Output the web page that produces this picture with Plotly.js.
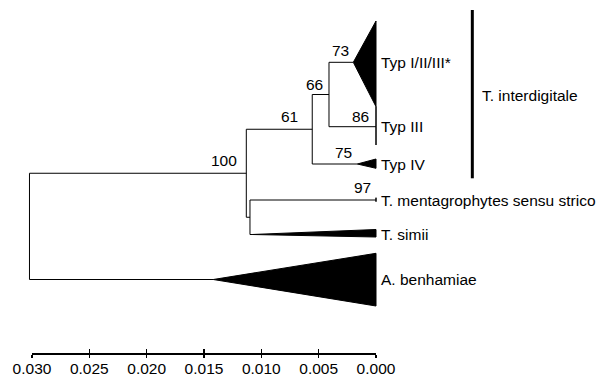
<!DOCTYPE html>
<html><head><meta charset="utf-8">
<script src="https://cdn.plot.ly/plotly-3.0.1.min.js"></script>
<style>html,body{margin:0;padding:0;background:#fff}</style>
</head><body><div id="chart" style="width:605px;height:379px"></div>
<script>
// ---- data ----
// collapsed clades / leaves
const cladeNames = ["Typ I/II/III*", "Typ III", "Typ IV", "T. mentagrophytes sensu strico", "T. simii", "A. benhamiae"];
const cladeApexDist = [0.00198, 0.0, 0.00163, 0.0, 0.0108, 0.01419];   // distance of clade apex from tips
const cladeY = [62.3, 126.7, 164, 200, 234.5, 279.5];                   // row of clade
const cladeTop = [21, 106.7, 159, 197.7, 229.5, 253.3];                 // clade extent at the tips
const cladeBottom = [106.7, 145, 168.3, 201.7, 237, 306];
// internal nodes
const nodeNames = ["n66", "n61", "nMS", "n100", "root"];
const nodeDist = [0.0041, 0.00556, 0.01099, 0.01131, 0.03022];
const nodeChildren = [
  ["Typ I/II/III*", "Typ III"],
  ["n66", "Typ IV"],
  ["T. mentagrophytes sensu strico", "T. simii"],
  ["n61", "nMS"],
  ["n100", "A. benhamiae"]
];
// bootstrap support
const bootstrapAt = ["Typ I/II/III*", "Typ III", "Typ IV", "T. mentagrophytes sensu strico", "n66", "n61", "n100"];
const bootstrapValue = [73, 86, 75, 97, 66, 61, 100];
// scale bar
const tickVals = [0.030, 0.025, 0.020, 0.015, 0.010, 0.005, 0.000];
// group bracket
const groupLabel = "T. interdigitale";
const groupFirst = "Typ I/II/III*";
const groupLast = "Typ IV";

// ---- layout helpers (styles) ----
const FONT = {family: "Liberation Sans, Arial, sans-serif", size: 15.5, color: "#000"};
const bsGap = [4.7, 6.7, 5, 4.7, 5.7, 14, 9.3];   // px left of branch end
const bsRise = [12.3, 10.7, 11.3, 13, 10.5, 12.5, 12.6]; // px above branch

// position lookup
const pos = {};
cladeNames.forEach((n, i) => pos[n] = {x: cladeApexDist[i], y: cladeY[i]});
nodeNames.forEach((n, i) => {
  const ys = nodeChildren[i].map(c => pos[c].y);
  pos[n] = {x: nodeDist[i], y: (Math.min(...ys) + Math.max(...ys)) / 2};
});

// branches
const bx = [], by = [];
nodeNames.forEach((n, i) => {
  const p = pos[n];
  const ys = nodeChildren[i].map(c => pos[c].y);
  bx.push(p.x, p.x, null); by.push(Math.min(...ys), Math.max(...ys), null);
  nodeChildren[i].forEach(c => {
    bx.push(p.x, pos[c].x, null); by.push(pos[c].y, pos[c].y, null);
  });
});

const traces = [{
  x: bx, y: by, mode: "lines", type: "scatter",
  line: {color: "#000", width: 1}, hoverinfo: "skip", showlegend: false
}];
cladeNames.forEach((n, i) => {
  traces.push({
    x: [cladeApexDist[i], 0, 0, cladeApexDist[i]],
    y: [cladeY[i], cladeTop[i], cladeBottom[i], cladeY[i]],
    mode: "lines", type: "scatter", fill: "toself", fillcolor: "#000",
    line: {color: "#000", width: 1}, hoverinfo: "skip", showlegend: false
  });
});
// bracket
const bracketX = -0.0084;
traces.push({
  x: [bracketX, bracketX], y: [cladeTop[cladeNames.indexOf(groupFirst)] - 11, cladeBottom[cladeNames.indexOf(groupLast)] + 10],
  mode: "lines", type: "scatter", line: {color: "#000", width: 3}, hoverinfo: "skip", showlegend: false
});
// dummy traces for scale axes
traces.push({x: [], y: [], xaxis: "x2", yaxis: "y", type: "scatter", mode: "lines", showlegend: false, hoverinfo: "skip"});
traces.push({x: [], y: [], xaxis: "x3", yaxis: "y", type: "scatter", mode: "lines", showlegend: false, hoverinfo: "skip"});

const annotations = [];
cladeNames.forEach((n, i) => annotations.push({
  x: 0, y: cladeY[i], xref: "x", yref: "y", text: n, showarrow: false,
  xanchor: "left", yanchor: "middle", xshift: 5, borderpad: 0, borderwidth: 0, font: FONT
}));
bootstrapAt.forEach((n, i) => annotations.push({
  x: pos[n].x, y: pos[n].y, xref: "x", yref: "y", text: String(bootstrapValue[i]), showarrow: false,
  xanchor: "right", yanchor: "middle", xshift: -bsGap[i], yshift: bsRise[i], borderpad: 0, borderwidth: 0, font: FONT
}));
annotations.push({
  x: bracketX, y: 95, xref: "x", yref: "y", text: groupLabel, showarrow: false,
  xanchor: "left", yanchor: "middle", xshift: 10, borderpad: 0, borderwidth: 0, font: FONT
});

const PXU = 11467; // px per unit
const x0px = 376;
const layout = {
  width: 605, height: 379,
  margin: {l: 0, r: 0, t: 0, b: 0, autoexpand: false},
  paper_bgcolor: "#fff", plot_bgcolor: "rgba(0,0,0,0)",
  showlegend: false,
  xaxis: {range: [x0px / PXU, (x0px - 605) / PXU], visible: false, domain: [0, 1]},
  yaxis: {range: [379, 0], visible: false, domain: [0, 1]},
  xaxis2: {
    domain: [32 / 605, 376 / 605], range: [0.030, 0.000], anchor: "free", position: 1 - 354.3 / 379,
    showline: true, linewidth: 2, linecolor: "#000", ticks: "outside", ticklen: 3, tickwidth: 1.5, tickcolor: "#000",
    tickvals: tickVals, ticktext: tickVals.map(v => v.toFixed(3)), showgrid: false, zeroline: false,
    tickfont: FONT, ticklabelstandoff: -3
  },
  xaxis3: {
    domain: [32 / 605, 376 / 605], range: [0.030, 0.000], anchor: "free", position: 1 - 354.3 / 379,
    showline: false, ticks: "inside", ticklen: 5, tickwidth: 1.5, tickcolor: "#000",
    tickvals: tickVals, showticklabels: false, showgrid: false, zeroline: false
  },
  annotations: annotations
};
Plotly.newPlot("chart", traces, layout, {staticPlot: true, displayModeBar: false});
</script>
</body></html>
